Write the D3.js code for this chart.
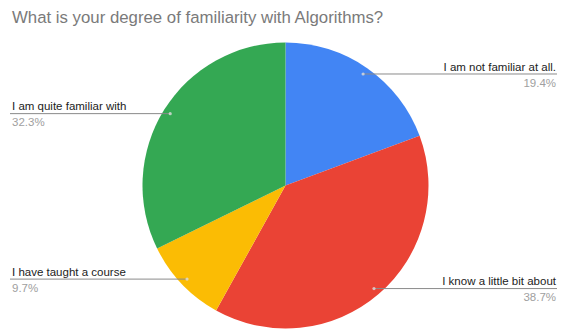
<!DOCTYPE html>
<html>
<head>
<meta charset="utf-8">
<script src="https://cdn.jsdelivr.net/npm/d3@7"></script>
<style>
  html, body { margin: 0; padding: 0; background: #fff; }
  svg { display: block; font-family: Arial, "Liberation Sans", sans-serif; }
</style>
</head>
<body>
<svg id="chart" width="561" height="330"></svg>
<script>
// Survey answers (31 responses)
const categories = [
  "I am not familiar at all.",
  "I know a little bit about",
  "I have taught a course",
  "I am quite familiar with"
];
const counts = [6, 12, 3, 10];
const percentLabels = ["19.4%", "38.7%", "9.7%", "32.3%"];
const colors = ["#4285F4", "#EA4335", "#FBBC04", "#34A853"];
const titleText = "What is your degree of familiarity with Algorithms?";

const W = 561, H = 330;
const cx = 285.5, cy = 185.5, R = 143;

const svg = d3.select("#chart");

svg.append("text")
  .attr("x", 12).attr("y", 23)
  .attr("fill", "#7a7a7a")
  .attr("font-size", 16.8)
  .text(titleText);

const data = categories.map((c, i) => ({ name: c, value: counts[i], pct: percentLabels[i], color: colors[i] }));

const pie = d3.pie().value(d => d.value).sort(null);
const arcs = pie(data);
const arc = d3.arc().innerRadius(0).outerRadius(R);
const dotArc = d3.arc().innerRadius(R * 0.95).outerRadius(R * 0.95);

const g = svg.append("g").attr("transform", `translate(${cx},${cy})`);

g.selectAll("path.slice")
  .data(arcs)
  .join("path")
  .attr("class", "slice")
  .attr("d", arc)
  .attr("fill", d => d.data.color);

// Leader lines and labels
const leftX = 12 - cx, rightX = 556 - cx;
const lbl = svg.append("g").attr("transform", `translate(${cx},${cy})`);

arcs.forEach(a => {
  const [px, py] = dotArc.centroid(a);
  const mid = (a.startAngle + a.endAngle) / 2;
  const right = mid < Math.PI;
  const endX = right ? rightX + 1 : leftX - 2;
  lbl.append("line")
    .attr("x1", px).attr("y1", py)
    .attr("x2", endX).attr("y2", py)
    .attr("stroke", "#8a8a8a").attr("stroke-width", 1);
  lbl.append("circle")
    .attr("cx", px).attr("cy", py).attr("r", 1.6)
    .attr("fill", "#dddddd").attr("opacity", 0.8);
  const tx = right ? rightX : leftX;
  const anchor = right ? "end" : "start";
  lbl.append("text")
    .attr("x", tx).attr("y", py - 3.5)
    .attr("text-anchor", anchor)
    .attr("font-size", 11.5)
    .attr("fill", "#222")
    .text(a.data.name);
  lbl.append("text")
    .attr("x", tx).attr("y", py + 12.5)
    .attr("text-anchor", anchor)
    .attr("font-size", 11.5)
    .attr("fill", "#a0a0a0")
    .text(a.data.pct);
});
</script>
</body>
</html>
